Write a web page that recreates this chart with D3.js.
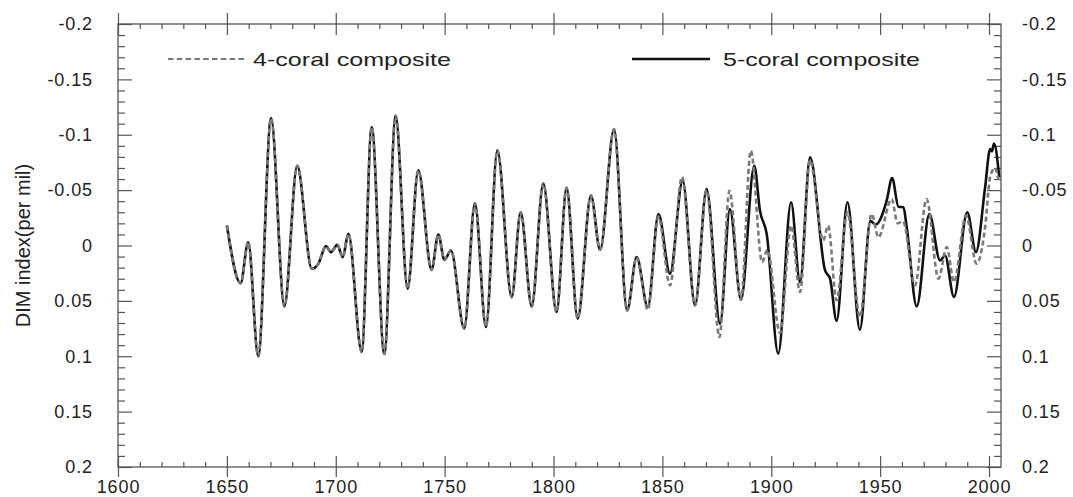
<!DOCTYPE html>
<html>
<head>
<meta charset="utf-8">
<script src="https://cdn.jsdelivr.net/npm/d3@7"></script>
<style>
  html, body { margin: 0; padding: 0; background: #fff; }
  svg { display: block; font-family: "Liberation Sans", Arial, Helvetica, sans-serif; }
  .axis text { font-size: 18px; fill: #222; letter-spacing: 0.9px; }
  .axis line { stroke: #555; stroke-width: 1.2; }
</style>
</head>
<body>
<svg id="chart" width="1073" height="497"></svg>
<script>
// values; both composites coincide up to ~1834
const sharedYears = [1650, 1656.3, 1659.8, 1664.4, 1670.3, 1676.4, 1682.3, 1689.0, 1692, 1695.5, 1697.8,
  1700.7, 1703.2, 1705.8, 1711.9, 1716.5, 1722.3, 1727.5, 1733.0, 1737.9, 1744.0, 1747.1, 1749.9,
  1752.9, 1759.0, 1763.9, 1769.0, 1774.2, 1780.8, 1784.9, 1790.0, 1795.3, 1801.4, 1806.0, 1811.1,
  1817.2, 1821.4, 1827.8, 1833.8]
const sharedValues = [-0.018, 0.034, -0.003, 0.100, -0.115, 0.055, -0.072, 0.021, 0.0165, 0.0006, 0.006,
  -0.0006, 0.0105, -0.0105, 0.096, -0.107, 0.098, -0.117, 0.039, -0.068, 0.022, -0.0099, 0.013,
  0.0045, 0.075, -0.038, 0.0736, -0.086, 0.0466, -0.030, 0.055, -0.056, 0.060, -0.052, 0.066,
  -0.045, 0.0039, -0.105, 0.0586]

const fiveLateYears = [1838.2, 1843.3, 1848.2, 1853.5, 1859.3, 1865.0, 1870.3, 1876.5, 1881.0, 1886.1,
  1892.2, 1894.8, 1897.9, 1903.2, 1909.1, 1913.2, 1917.8, 1924.7, 1927, 1930.0, 1935.0, 1940.7,
  1945.5, 1948, 1953, 1955.5, 1958.4, 1960.7, 1962.2, 1966.8, 1972.6, 1977.5, 1979.8, 1983.9,
  1990.0, 1994.0, 1998.2, 2000.5, 2001.3, 2002.3, 2004.7]
const fiveLateValues = [0.0105, 0.0556, -0.0285, 0.0255, -0.0586, 0.054, -0.051, 0.0706, -0.033, 0.049,
  -0.072, -0.0315, -0.0105, 0.0976, -0.039, 0.033, -0.0796, 0.0225, 0.030, 0.068, -0.039, 0.076,
  -0.022, -0.019, -0.0405, -0.061, -0.035, -0.0345, -0.0165, 0.055, -0.0285, 0.0135, 0.009, 0.0466,
  -0.030, 0.006, -0.0525, -0.087, -0.085, -0.092, -0.0615]

const fourLateYears = [1838.2, 1843.3, 1848.2, 1853.5, 1859.0, 1865.0, 1870.3, 1876.2, 1880.8, 1886.1,
  1890.6, 1895.8, 1898.2, 1904.0, 1909.1, 1913.2, 1917.8, 1923.8, 1926.1, 1930.0, 1935.0, 1940.7,
  1946.1, 1949.2, 1955.3, 1958.0, 1960.5, 1966.0, 1971.3, 1976.8, 1980.6, 1983.9, 1989.4, 1994.3,
  1998.2, 2000.5, 2002.7, 2004.2]
const fourLateValues = [0.0105, 0.058, -0.026, 0.036, -0.062, 0.054, -0.050, 0.0826, -0.0495, 0.049,
  -0.0856, 0.015, 0.004, 0.079, -0.018, 0.042, -0.077, -0.0045, -0.018, 0.0495, -0.030, 0.0646,
  -0.0285, -0.0075, -0.042, -0.020, -0.022, 0.036, -0.042, 0.030, 0.0015, 0.033, -0.027, 0.0165,
  -0.0165, -0.0615, -0.070, -0.060]

const xTickValues = [1600, 1650, 1700, 1750, 1800, 1850, 1900, 1950, 2000]
const yTickValues = [-0.2, -0.15, -0.1, -0.05, 0, 0.05, 0.1, 0.15, 0.2]
const yTickLabels = ['-0.2', '-0.15', '-0.1', '-0.05', '0', '0.05', '0.1', '0.15', '0.2']
const seriesNames = ['4-coral composite', '5-coral composite']

const toPoints = (years, values) => years.map((year, i) => ({ year, value: values[i] }))

const fiveCoral = toPoints(sharedYears.concat(fiveLateYears), sharedValues.concat(fiveLateValues))
const fourCoral = toPoints(sharedYears.concat(fourLateYears), sharedValues.concat(fourLateValues))

const plot = { left: 118, right: 1001, top: 24, bottom: 467 }

const x = d3.scaleLinear().domain([1600, 2005.5]).range([plot.left, plot.right])
const y = d3.scaleLinear().domain([-0.2, 0.2]).range([plot.top, plot.bottom])

const xMinor = d3.range(1610, 2001, 10).filter((d) => d % 50 !== 0)
const yMinor = d3.range(-20, 21).map((d) => d / 100).filter((d) => Math.round(d * 100) % 5 !== 0)

const svg = d3.select('#chart')

const addAxis = (axis, tx, ty) => {
  const g = svg.append('g').attr('class', 'axis').attr('transform', `translate(${tx},${ty})`).call(axis)
  g.select('.domain').remove()
  return g
}

const noLabel = () => ''
const yLabel = (d) => yTickLabels[yTickValues.indexOf(d)]

// bottom axis: major ticks cross the frame, minors point inward
addAxis(d3.axisBottom(x).tickValues(xTickValues).tickSize(10).tickPadding(3).tickFormat(d3.format('d')), 0, plot.bottom)
addAxis(d3.axisTop(x).tickValues(xTickValues).tickSize(11).tickFormat(noLabel), 0, plot.bottom)
addAxis(d3.axisTop(x).tickValues(xMinor).tickSize(5).tickFormat(noLabel), 0, plot.bottom)

// top axis
addAxis(d3.axisTop(x).tickValues(xTickValues).tickSize(11).tickFormat(noLabel), 0, plot.top)
addAxis(d3.axisBottom(x).tickValues(xTickValues).tickSize(11).tickFormat(noLabel), 0, plot.top)
addAxis(d3.axisBottom(x).tickValues(xMinor).tickSize(5).tickFormat(noLabel), 0, plot.top)

// left and right axes, ticks inward
addAxis(d3.axisLeft(y).tickValues(yTickValues).tickSize(-14).tickPadding(25).tickFormat(yLabel), plot.left, 0)
addAxis(d3.axisLeft(y).tickValues(yMinor).tickSize(-7).tickFormat(noLabel), plot.left, 0)
addAxis(d3.axisRight(y).tickValues(yTickValues).tickSize(-14).tickPadding(21).tickFormat(yLabel), plot.right, 0)
addAxis(d3.axisRight(y).tickValues(yMinor).tickSize(-7).tickFormat(noLabel), plot.right, 0)

svg.append('rect')
  .attr('x', plot.left)
  .attr('y', plot.top)
  .attr('width', plot.right - plot.left)
  .attr('height', plot.bottom - plot.top)
  .attr('fill', 'none')
  .attr('stroke', '#555')
  .attr('stroke-width', 1.3)

svg.append('text')
  .attr('transform', `translate(30,${(plot.top + plot.bottom) / 2}) rotate(-90)`)
  .attr('text-anchor', 'middle')
  .attr('font-size', 20)
  .attr('fill', '#222')
  .text('DIM index(per mil)')

const line = d3.line()
  .x((d) => x(d.year))
  .y((d) => y(d.value))
  .curve(d3.curveMonotoneX)

svg.append('path')
  .datum(fiveCoral)
  .attr('d', line)
  .attr('fill', 'none')
  .attr('stroke', '#111')
  .attr('stroke-width', 2.6)
  .attr('stroke-linejoin', 'round')

svg.append('path')
  .datum(fourCoral)
  .attr('d', line)
  .attr('fill', 'none')
  .attr('stroke', '#7a7a7a')
  .attr('stroke-width', 2.6)
  .attr('stroke-dasharray', '5,3')

// legend
const legend = svg.append('g').attr('font-size', 19).attr('fill', '#222')

legend.append('line')
  .attr('x1', 168).attr('x2', 247).attr('y1', 59).attr('y2', 59)
  .attr('stroke', '#777').attr('stroke-width', 2.2).attr('stroke-dasharray', '5.5,3.3')
legend.append('text')
  .attr('x', 253).attr('y', 66)
  .attr('textLength', 198).attr('lengthAdjust', 'spacingAndGlyphs')
  .text(seriesNames[0])

legend.append('line')
  .attr('x1', 632).attr('x2', 710).attr('y1', 59).attr('y2', 59)
  .attr('stroke', '#111').attr('stroke-width', 2.4)
legend.append('text')
  .attr('x', 723).attr('y', 66)
  .attr('textLength', 197).attr('lengthAdjust', 'spacingAndGlyphs')
  .text(seriesNames[1])
</script>
</body>
</html>
